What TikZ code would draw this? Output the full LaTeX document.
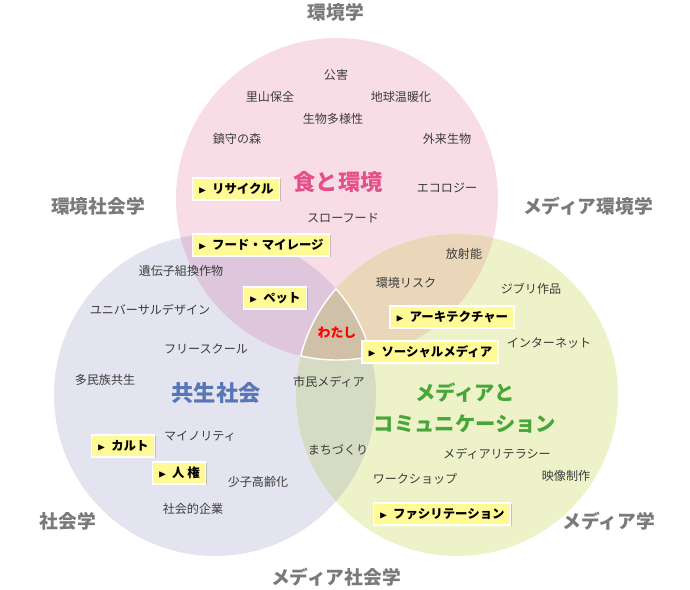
\documentclass[tikz,border=0pt]{standalone}
\usepackage{fontspec}
\setmainfont{Noto Sans CJK JP}
\usepackage{amsmath}
\usepackage{amssymb}
\usepackage{xcolor}
\usetikzlibrary{shadows}

\definecolor{pinkarea}{HTML}{F8DDE6}
\definecolor{bluearea}{HTML}{E3E4F0}
\definecolor{greenarea}{HTML}{EEF2C9}
\definecolor{pinkblue}{HTML}{DEC7DC}
\definecolor{pinkgreen}{HTML}{EAD6B8}
\definecolor{bluegreen}{HTML}{D6DBC4}
\definecolor{allthree}{HTML}{D0C0A8}
\definecolor{wordgray}{HTML}{3C3C3C}
\definecolor{fieldgray}{HTML}{7A7A7A}
\definecolor{boxyellow}{HTML}{FFFA96}
\definecolor{titlepink}{HTML}{E6508A}
\definecolor{titleblue}{HTML}{5676B6}
\definecolor{titlegreen}{HTML}{46A638}

\begin{document}
\begin{tikzpicture}[
  x=0.03cm, y=-0.03cm,
  word/.style={text=wordgray,inner sep=1pt,font=\fontsize{10.3}{12}\selectfont},
  field/.style={text=fieldgray,inner sep=1pt,font=\fontsize{16}{18}\selectfont\bfseries},
  title/.style={inner sep=1pt,align=center,font=\fontsize{19}{22}\selectfont\bfseries},
  tagbox/.style={fill=boxyellow,draw=white,line width=1pt,inner xsep=5pt,minimum height=0.66cm,
    font=\fontsize{10.6}{12}\selectfont\bfseries,drop shadow={shadow xshift=1.2pt,shadow yshift=-1.2pt,opacity=0.4}}
]
  \useasboundingbox (0,0) rectangle (690,590);
  \coordinate (pc) at (337,199);
  \coordinate (bc) at (215,395);
  \coordinate (gc) at (457,395);
  \fill[pinkarea] (pc) circle (161);
  \fill[bluearea] (bc) circle (161);
  \fill[greenarea] (gc) circle (161);
  \begin{scope}
    \clip (pc) circle (161);
    \fill[pinkblue] (bc) circle (161);
    \fill[pinkgreen] (gc) circle (161);
  \end{scope}
  \begin{scope}
    \clip (bc) circle (161);
    \fill[bluegreen] (gc) circle (161);
    \clip (gc) circle (161);
    \fill[allthree] (pc) circle (161);
  \end{scope}
  \begin{scope}
    \clip (pc) circle (161);
    \clip (bc) circle (161);
    \draw[white,line width=1.2pt] (gc) circle (161);
  \end{scope}
  \begin{scope}
    \clip (pc) circle (161);
    \clip (gc) circle (161);
    \draw[white,line width=1.2pt] (bc) circle (161);
  \end{scope}
  \begin{scope}
    \clip (bc) circle (161);
    \clip (gc) circle (161);
    \draw[white,line width=1.2pt] (pc) circle (161);
  \end{scope}

  \node[field] (f1) at (336,12) {環境学};
  \node[field] (f2) at (98,206) {環境社会学};
  \node[field] (f3) at (588,206) {メディア環境学};
  \node[field] (f4) at (68,521) {社会学};
  \node[field] (f5) at (609,521) {メディア学};
  \node[field] (f6) at (336,577) {メディア社会学};

  \node[title,text=titlepink] (a1) at (338,182) {食と環境};
  \node[title,text=titleblue] (a2) at (216,393) {共生社会};
  \node[title,text=titlegreen,font=\fontsize{17.3}{27}\selectfont\bfseries] (a3) at (465,408) {メディアと\\コミュニケーション};
  \node[title,text=red,font=\fontsize{11}{13}\selectfont\bfseries] (a4) at (337,333) {わたし};

  \node[word] (w1) at (336,75) {公害};
  \node[word] (w2) at (270,97) {里山保全};
  \node[word] (w3) at (401,97) {地球温暖化};
  \node[word] (w4) at (333,119) {生物多様性};
  \node[word] (w5) at (237,139) {鎮守の森};
  \node[word] (w6) at (447,139) {外来生物};
  \node[word] (w7) at (447,188) {エコロジー};
  \node[word] (w8) at (343,218) {スローフード};
  \node[word] (w9) at (181,271) {遺伝子組換作物};
  \node[word] (w10) at (464,254) {放射能};
  \node[word] (w11) at (406,283) {環境リスク};
  \node[word] (w12) at (531,289) {ジブリ作品};
  \node[word] (w13) at (150,310) {ユニバーサルデザイン};
  \node[word] (w14) at (549,343) {インターネット};
  \node[word] (w15) at (206,349) {フリースクール};
  \node[word] (w16) at (105,380) {多民族共生};
  \node[word] (w17) at (329,382) {市民メディア};
  \node[word] (w18) at (200,436) {マイノリティ};
  \node[word] (w19) at (338,450) {まちづくり};
  \node[word] (w20) at (497,454) {メディアリテラシー};
  \node[word] (w21) at (566,476) {映像制作};
  \node[word] (w22) at (258,482) {少子高齢化};
  \node[word] (w23) at (415,479) {ワークショップ};
  \node[word] (w24) at (193,509) {社会的企業};

  \node[tagbox] (b1) at (236,189) {{\small$\blacktriangleright$}\hspace{0.45em}リサイクル};
  \node[tagbox] (b2) at (261,245) {{\small$\blacktriangleright$}\hspace{0.45em}フード・マイレージ};
  \node[tagbox] (b3) at (275,298) {{\small$\blacktriangleright$}\hspace{0.45em}ペット};
  \node[tagbox] (b4) at (452,317) {{\small$\blacktriangleright$}\hspace{0.45em}アーキテクチャー};
  \node[tagbox] (b5) at (430,352) {{\small$\blacktriangleright$}\hspace{0.45em}ソーシャルメディア};
  \node[tagbox] (b6) at (442,514) {{\small$\blacktriangleright$}\hspace{0.45em}ファシリテーション};
  \node[tagbox] (b7) at (123,446) {{\small$\blacktriangleright$}\hspace{0.45em}カルト};
  \node[tagbox] (b8) at (179,473) {{\small$\blacktriangleright$}\hspace{0.45em}人 権};
\end{tikzpicture}
\end{document}
